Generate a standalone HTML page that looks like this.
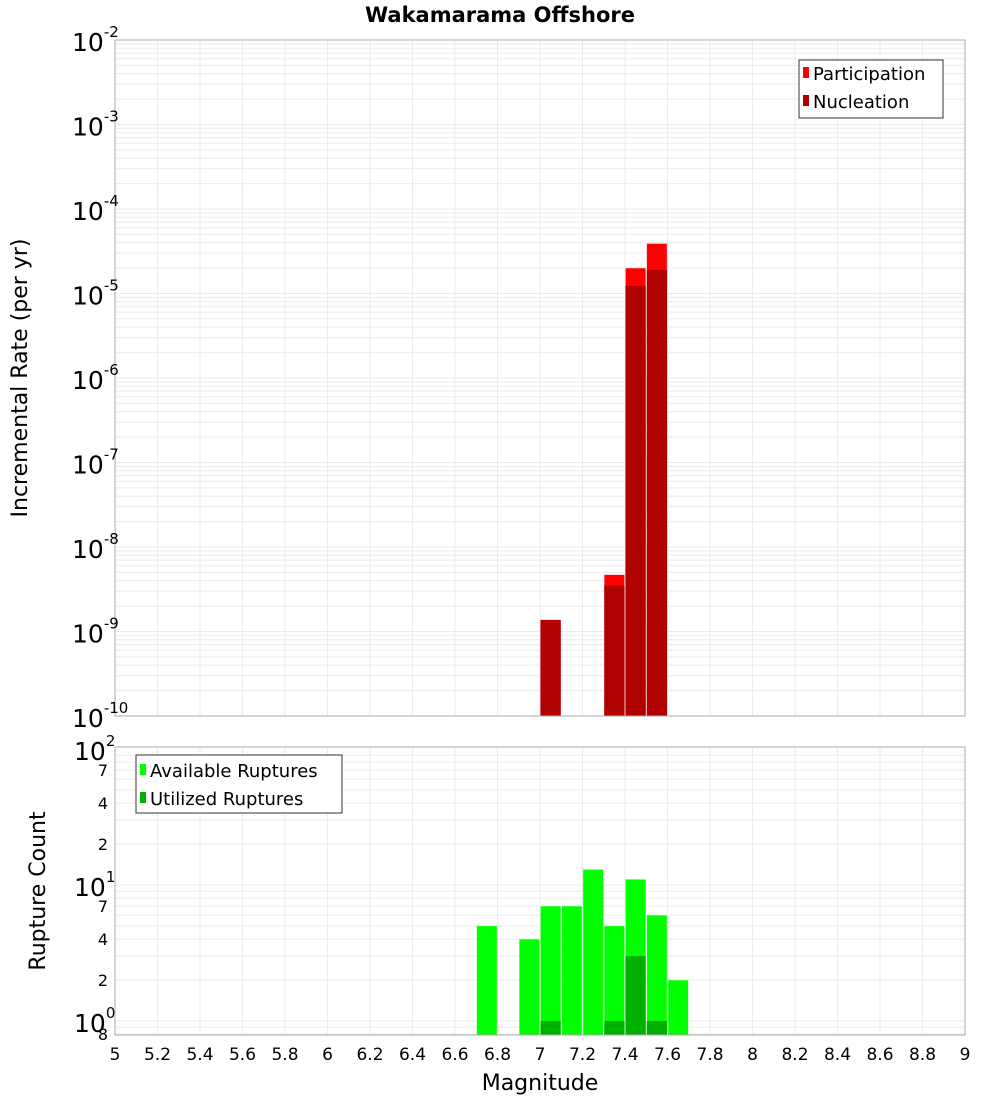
<!DOCTYPE html>
<html><head><meta charset="utf-8"><style>
body{margin:0;background:#fff;font-family:"Liberation Sans","DejaVu Sans",sans-serif}
svg text{font-family:"DejaVu Sans","Liberation Sans",sans-serif}
</style></head><body>
<svg id="c" width="1000" height="1100" xmlns="http://www.w3.org/2000/svg">
<text x="500" y="22" text-anchor="middle" font-size="21" font-weight="bold">Wakamarama Offshore</text>
<text transform="translate(27,378) rotate(-90)" text-anchor="middle" font-size="22">Incremental Rate (per yr)</text>
<text transform="translate(45,891) rotate(-90)" text-anchor="middle" font-size="22">Rupture Count</text>
<text x="540" y="1090" text-anchor="middle" font-size="22">Magnitude</text>
<g id="g"></g>
</svg>
<script>
const mags = [7.05, 7.35, 7.45, 7.55];
const participation = [1.37e-9, 4.7e-9, 2.0e-5, 3.9e-5];
const nucleation = [1.37e-9, 3.5e-9, 1.23e-5, 1.9e-5];
const countMags = [6.75, 6.95, 7.05, 7.15, 7.25, 7.35, 7.45, 7.55, 7.65];
const available = [5, 4, 7, 7, 13, 5, 11, 6, 2];
const utilized = [0, 0, 1, 0, 0, 1, 3, 1, 0];
const xTicks = ["5","5.2","5.4","5.6","5.8","6","6.2","6.4","6.6","6.8","7","7.2","7.4","7.6","7.8","8","8.2","8.4","8.6","8.8","9"];
const topExps = [-2,-3,-4,-5,-6,-7,-8,-9,-10];

const NS="http://www.w3.org/2000/svg", G=document.getElementById('g');
function el(t,a,p){const e=document.createElementNS(NS,t);for(const k in a)e.setAttribute(k,a[k]);(p||G).appendChild(e);return e;}
const X0=115,X1=965;
const xs=m=>X0+(m-5)/4*(X1-X0);
const T0=40,T1=716;
const yTop=v=>T0+(-2-Math.log10(v))*(T1-T0)/8;
const B0=747,B1=1035;
const yBot=v=>1021-Math.log10(v)*136;

// top plot frame & grid
let r=el('rect',{x:X0,y:T0,width:X1-X0,height:T1-T0,fill:'#fff',stroke:'none'});

for(let d=-10;d<-2;d++)for(let k=1;k<10;k++){const y=yTop(k*Math.pow(10,d));if(y<T0||y>T1)continue;
 const l=el('line',{x1:X0,x2:X1,y1:y,y2:y,stroke:'#ebebeb','stroke-width':1});
 }
for(let i=0;i<xTicks.length;i++){const x=xs(+xTicks[i]);
 let l=el('line',{x1:x,x2:x,y1:T0,y2:T1,stroke:'#ebebeb'});
 l=el('line',{x1:x,x2:x,y1:B0,y2:B1,stroke:'#ebebeb'});
 const t=el('text',{x:x,y:1060,'text-anchor':'middle','font-size':17});t.textContent=xTicks[i];
 }
// top bars
const bw=(X1-X0)/40;
mags.forEach((m,i)=>{
 let b=el('rect',{x:xs(m)-bw/2+0.5,y:yTop(participation[i]),width:bw-1,height:T1-yTop(participation[i]),fill:'#ff0000',stroke:'#ffb0b0','stroke-width':0.5});
 
 b=el('rect',{x:xs(m)-bw/2+0.5,y:yTop(nucleation[i]),width:bw-1,height:T1-yTop(nucleation[i]),fill:'#b00000'});
 
});
r=el('rect',{x:X0,y:T0,width:X1-X0,height:T1-T0,fill:'none',stroke:'#aaa'});

topExps.forEach(e=>{const y=yTop(Math.pow(10,e));
 const t=el('text',{x:72,y:y+11,'font-size':25});t.textContent='10';
 const s=el('tspan',{dy:-14,'font-size':15});s.textContent=String(e);t.appendChild(s);
 });
// top legend
let lg=el('g',{});
el('rect',{x:799,y:60,width:144,height:58,fill:'#fff',stroke:'#333'},lg);
el('rect',{x:803,y:67,width:6,height:11,fill:'#ff0000'},lg);
el('rect',{x:803,y:95,width:6,height:11,fill:'#b00000'},lg);
let t=el('text',{x:813,y:80,'font-size':18},lg);t.textContent='Participation';

t=el('text',{x:813,y:108,'font-size':18},lg);t.textContent='Nucleation';


// bottom plot
for(let d=-1;d<2;d++)for(let k=1;k<10;k++){const y=yBot(k*Math.pow(10,d));if(y<B0||y>B1)continue;
 const l=el('line',{x1:X0,x2:X1,y1:y,y2:y,stroke:'#ebebeb'});
 }
countMags.forEach((m,i)=>{
 let b=el('rect',{x:xs(m)-bw/2+0.5,y:yBot(available[i]),width:bw-1,height:B1-yBot(available[i]),fill:'#00ff00',stroke:'#b0ffb0','stroke-width':0.5});
 
 if(utilized[i]>0){b=el('rect',{x:xs(m)-bw/2+0.5,y:yBot(utilized[i]),width:bw-1,height:B1-yBot(utilized[i]),fill:'#00b000'});
 }
});
r=el('rect',{x:X0,y:B0,width:X1-X0,height:B1-B0,fill:'none',stroke:'#aaa'});

[[2,'10','2'],[1,'10','1'],[0,'10','0']].forEach(a=>{const y=yBot(Math.pow(10,a[0]));
 const t=el('text',{x:74,y:y+11,'font-size':25});t.textContent=a[1];
 const s=el('tspan',{dy:-14,'font-size':15});s.textContent=a[2];t.appendChild(s);
 });
[[70,'7'],[40,'4'],[20,'2'],[7,'7'],[4,'4'],[2,'2'],[0.8,'8']].forEach(a=>{
 const t=el('text',{x:108,y:yBot(a[0])+6,'font-size':16,'text-anchor':'end'});t.textContent=a[1];
 });
lg=el('g',{});
el('rect',{x:136,y:755,width:206,height:58,fill:'#fff',stroke:'#333'},lg);
el('rect',{x:140,y:764,width:6,height:11,fill:'#00ff00'},lg);
el('rect',{x:140,y:792,width:6,height:11,fill:'#00b000'},lg);
t=el('text',{x:150,y:777,'font-size':18},lg);t.textContent='Available Ruptures';

t=el('text',{x:150,y:805,'font-size':18},lg);t.textContent='Utilized Ruptures';

</script>
</body></html>
